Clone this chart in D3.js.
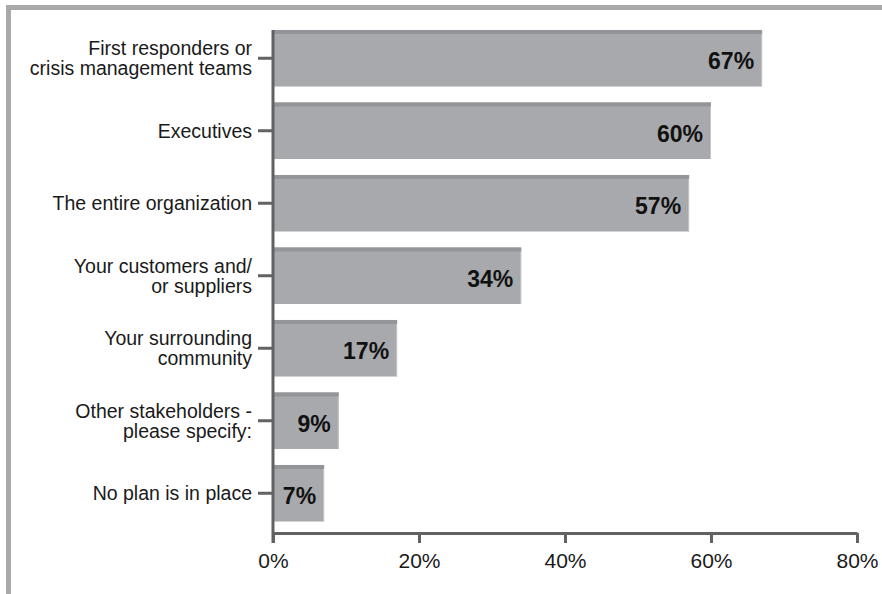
<!DOCTYPE html>
<html>
<head>
<meta charset="utf-8">
<script src="https://cdn.jsdelivr.net/npm/d3@7"></script>
<style>
  html, body { margin: 0; padding: 0; background: #fff; }
  svg { display: block; }
  text { font-family: "Liberation Sans", Arial, sans-serif; }
</style>
</head>
<body>
<svg id="chart" width="882" height="594"></svg>
<script>
// Who the crisis plan is communicated to
const categories = [
  ["First responders or", "crisis management teams"],
  ["Executives"],
  ["The entire organization"],
  ["Your customers and/", "or suppliers"],
  ["Your surrounding", "community"],
  ["Other stakeholders -", "please specify:"],
  ["No plan is in place"]
];
const values = [67, 60, 57, 34, 17, 9, 7];
const xTicks = [0, 20, 40, 60, 80];

const svg = d3.select("#chart");
const W = 882, H = 594;

// page frame: grey rule along the top and left
svg.append("rect").attr("x", 6).attr("y", 5).attr("width", W - 6).attr("height", 5).attr("fill", "#a9a9a9");
svg.append("rect").attr("x", 6).attr("y", 5).attr("width", 5).attr("height", H - 5).attr("fill", "#a9a9a9");

const x0 = 273, x1 = 857, axisY = 533;
const x = d3.scaleLinear().domain([0, 80]).range([x0, x1]);
const y = d3.scaleBand()
  .domain(d3.range(categories.length))
  .range([22, 529.5])
  .paddingInner(0.22)
  .paddingOuter(0.11);

const rows = svg.append("g").selectAll("g")
  .data(values)
  .join("g");

// bars
rows.append("rect")
  .attr("x", x(0))
  .attr("y", (d, i) => y(i))
  .attr("width", d => x(d) - x(0))
  .attr("height", y.bandwidth())
  .attr("fill", "#a7a9ac");
// darker strip along the top edge of each bar
rows.append("rect")
  .attr("x", x(0))
  .attr("y", (d, i) => y(i))
  .attr("width", d => x(d) - x(0))
  .attr("height", 4)
  .attr("fill", "#939598");
// faint highlight on the right edge
rows.append("rect")
  .attr("x", d => x(d) - 1)
  .attr("y", (d, i) => y(i) + 4)
  .attr("width", 1)
  .attr("height", y.bandwidth() - 4)
  .attr("fill", "#c4c5c7");

// value labels inside the bar ends
rows.append("text")
  .attr("x", d => x(d) - 8)
  .attr("y", (d, i) => y(i) + y.bandwidth() / 2 + 11)
  .attr("text-anchor", "end")
  .attr("font-size", 23)
  .attr("font-weight", "bold")
  .attr("fill", "#111")
  .text(d => d + "%");

// y axis line and ticks
const axisColor = "#626262";
svg.append("line")
  .attr("x1", x0).attr("x2", x0)
  .attr("y1", 30).attr("y2", axisY + 10)
  .attr("stroke", axisColor).attr("stroke-width", 3);

const yTicks = svg.append("g").selectAll("g")
  .data(categories)
  .join("g")
  .attr("transform", (d, i) => `translate(0,${y(i) + y.bandwidth() / 2})`);

yTicks.append("line")
  .attr("x1", 258).attr("x2", x0)
  .attr("stroke", axisColor).attr("stroke-width", 3);

yTicks.append("text")
  .attr("x", 252)
  .attr("text-anchor", "end")
  .attr("font-size", 19.5)
  .attr("fill", "#1a1a1a")
  .each(function(lines) {
    const t = d3.select(this);
    const lh = 20;
    const start = -((lines.length - 1) * lh) / 2 + 7;
    lines.forEach((s, k) => {
      t.append("tspan").attr("x", 252).attr("y", start + k * lh).text(s);
    });
  });

// x axis
const xAxis = d3.axisBottom(x)
  .tickValues(xTicks)
  .tickFormat(d => d + "%")
  .tickSize(10)
  .tickSizeOuter(0)
  .tickPadding(10);

const gx = svg.append("g")
  .attr("transform", `translate(0,${axisY})`)
  .call(xAxis);
gx.select(".domain").attr("stroke", axisColor).attr("stroke-width", 3);
gx.selectAll(".tick line").attr("stroke", axisColor).attr("stroke-width", 3);
gx.selectAll(".tick text")
  .attr("font-family", "Liberation Sans, Arial, sans-serif")
  .attr("font-size", 21)
  .attr("fill", "#1a1a1a");
</script>
</body>
</html>
